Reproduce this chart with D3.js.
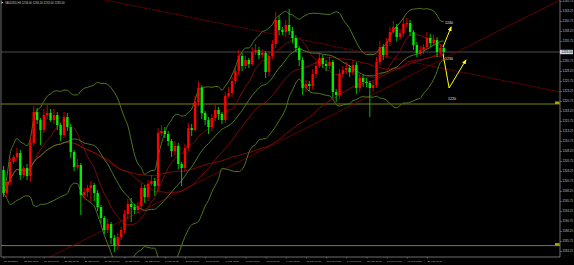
<!DOCTYPE html>
<html>
<head>
<meta charset="utf-8">
<script src="https://cdnjs.cloudflare.com/ajax/libs/d3/7.8.5/d3.min.js"></script>
<style>
  html, body { margin: 0; padding: 0; background: #000; }
  svg { display: block; }
</style>
</head>
<body>
<div id="chart"></div>
<script>
// XAUUSD H4 candles (open = previous close)
const symbol = "XAUUSD,H4";
const firstOpen = 1203.5;
const closes = [
  1197.75, 1200.5, 1205.5, 1206.75, 1207.75, 1202.25, 1204, 1202, 1210.25, 1218,
  1216, 1213.5, 1217.25, 1217.75, 1216, 1217.25, 1214.75, 1212.25, 1216.75, 1214.25,
  1208, 1204.25, 1204.75, 1197.25, 1198, 1199, 1199.75, 1197.75, 1194.25, 1191.5,
  1188.5, 1190, 1186.5, 1184.5, 1186.75, 1188.5, 1192.5, 1195, 1194.25, 1193.5,
  1194.5, 1199, 1196.75, 1200, 1200.75, 1199.5, 1212.75, 1213.25, 1212.5, 1210.75,
  1208.25, 1209.5, 1205, 1204, 1209, 1214, 1213.5, 1220.5, 1224, 1217.75,
  1216, 1214.25, 1216.5, 1218.5, 1217.5, 1216, 1222, 1222.75, 1225.75, 1228.25,
  1232, 1229.5, 1231, 1230, 1233, 1233.5, 1232.25, 1232.75, 1228, 1232,
  1235, 1241, 1238.5, 1238, 1239.75, 1238.25, 1236.5, 1234, 1231, 1224,
  1225, 1224.5, 1227.5, 1229.5, 1231.5, 1230, 1229.5, 1230.5, 1223, 1222.25,
  1227.5, 1228.5, 1229, 1228, 1229.75, 1224, 1226.5, 1225.5, 1225.25, 1224,
  1224.75, 1230.5, 1234.25, 1232.25, 1235.5, 1238, 1239.25, 1236.75, 1237.75, 1240,
  1240.25, 1238, 1234.75, 1232.75, 1233.5, 1234.25, 1236.5, 1235.25, 1236, 1233,
  1234, 1233
];
const upWick = [
  1, 0.75, 1, 0.5, 1.25, 0.75, 0.5, 1, 1.5, 1.5,
  1, 0.5, 1.5, 2, 1, 1.5, 0.75, 0.5, 1.25, 1,
  0.75, 0.5, 1.5, 0.5, 1, 0.75, 1, 0.5, 0.75, 0.5,
  0.5, 1.25, 0.5, 0.75, 1, 0.75, 1, 1.25, 1.5, 0.75,
  1, 1.25, 0.75, 1, 1.5, 0.75, 1.25, 1.5, 1, 0.75,
  0.5, 1.25, 0.75, 0.5, 1, 1.25, 1, 1.5, 1.75, 0.75,
  0.5, 0.75, 1, 1.25, 0.75, 0.5, 1, 1.5, 1, 1.25,
  1.5, 0.75, 1, 0.5, 1.25, 1.5, 0.75, 1, 0.5, 1.25,
  1, 2, 1, 0.75, 1.25, 4, 1, 0.75, 0.5, 0.75,
  1, 0.75, 1.25, 1, 1.5, 0.75, 1, 1.25, 0.5, 0.75,
  1.25, 1, 1.5, 0.75, 1.25, 0.75, 1, 0.75, 1, 0.5,
  1, 1.25, 1.5, 0.75, 1, 1.25, 1.5, 0.75, 1, 1.5,
  1.25, 0.75, 0.5, 0.75, 1, 0.75, 1.5, 1, 1.25, 0.75,
  1, 0.5
];
const downWick = [
  1, 1.25, 0.75, 0.5, 1, 1.25, 0.75, 1, 1.5, 0.75,
  1, 3.75, 0.75, 1, 0.5, 1, 1.25, 1.5, 0.75, 1,
  1.5, 1, 0.75, 5, 1, 1.25, 3.5, 2, 1, 1.25,
  1, 0.75, 1.5, 1.5, 1, 0.75, 1, 1.25, 3.75, 1,
  0.75, 1, 1.5, 1, 0.5, 2.5, 1.5, 0.75, 1, 1.25,
  1.5, 1, 1.25, 4.5, 1, 0.75, 1.5, 0.5, 1, 1.5,
  1.25, 1.75, 1, 0.75, 1.5, 1, 0.75, 0.5, 1, 0.75,
  1, 1.25, 0.75, 1, 0.5, 0.75, 1, 0.75, 1.5, 1,
  0.75, 1, 1.25, 0.75, 1, 1, 1.25, 1, 1.5, 1.75,
  1, 1.25, 0.75, 1, 0.5, 1, 1.25, 0.75, 1.5, 1.75,
  1, 0.75, 1, 1.25, 0.75, 1.5, 1, 1.25, 1, 7.25,
  1, 0.75, 1, 1.25, 0.75, 1, 0.5, 1, 0.75, 1,
  0.75, 1, 1.25, 1, 0.75, 1, 0.5, 1, 0.75, 1.25,
  0.75, 1
];
// one label per trading day (6 H4 bars)
const dayLabels = [
  "20 Jan 2017", "23 Jan 00:00", "24 Jan 00:00", "25 Jan 00:00", "26 Jan 00:00",
  "27 Jan 00:00", "30 Jan 00:00", "31 Jan 00:00", "1 Feb 00:00", "2 Feb 00:00",
  "3 Feb 00:00", "6 Feb 00:00", "7 Feb 00:00", "8 Feb 00:00", "9 Feb 00:00",
  "10 Feb 00:00", "13 Feb 00:00", "14 Feb 00:00", "15 Feb 00:00", "16 Feb 00:00",
  "17 Feb 00:00", "20 Feb 00:00"
];
const priceTicks = [
  1245.75, 1243.25, 1240.75, 1238.25, 1235.75, 1230.75, 1228.25, 1225.75, 1223.25,
  1220.75, 1218.25, 1215.75, 1213.25, 1210.75, 1208.25, 1205.75, 1203.25, 1200.75,
  1198.25, 1195.75, 1193.25, 1190.75, 1188.25, 1185.75, 1183.25
];
const levelLines = [1220, 1184.6];
// trend lines as [bar index, price]
const descTrend = [[30.2, 1246], [165.6, 1223]];
const ascTrend = [[10.9, 1180.5], [165.6, 1246]];
// hand-drawn forecast
const arrowUp = [[130.8, 1234.25], [133.2, 1239.25]];
const arrowZig = [[130.8, 1232.5], [132.6, 1224], [137.6, 1231]];
const targetText = ["1240", "1230", "1220"];
const targetBar = [131.4, 131.4, 132.3];
const targetPrice = [1239.9, 1231.1, 1221.1];
const maPeriods = [10, 30, 60];

const width = 574, height = 265;
const plot = { left: 1, right: 560, top: 0, bottom: 257 };
const font = "'Liberation Sans', Arial, sans-serif";

const candles = closes.map((c, i) => {
  const o = i ? closes[i - 1] : firstOpen;
  return { i, o, c, h: Math.max(o, c) + upWick[i], l: Math.min(o, c) - downWick[i] };
});

const x = d3.scaleLinear().domain([-0.75, 165.6]).range([plot.left, plot.right]);
const y = d3.scaleLinear().domain([1246, 1181.75]).range([plot.top, plot.bottom]);

const svg = d3.select("#chart").append("svg")
  .attr("width", width).attr("height", height)
  .style("background", "#000");

svg.append("defs").append("clipPath").attr("id", "clip")
  .append("rect")
  .attr("x", plot.left).attr("y", plot.top)
  .attr("width", plot.right - plot.left).attr("height", plot.bottom - plot.top);

const defs = svg.select("defs");
defs.append("marker")
  .attr("id", "head")
  .attr("markerUnits", "userSpaceOnUse")
  .attr("viewBox", "0 0 10 10")
  .attr("refX", 8).attr("refY", 5)
  .attr("markerWidth", 5).attr("markerHeight", 5)
  .attr("orient", "auto")
  .append("path").attr("d", "M0,1 L10,5 L0,9 Z").attr("fill", "#ffff00");

const g = svg.append("g").attr("clip-path", "url(#clip)");

// indicators
function sma(period) {
  return closes.map((_, i) => {
    const w = closes.slice(Math.max(0, i - period + 1), i + 1);
    return d3.mean(w);
  });
}
const mid = sma(20);
const dev = closes.map((_, i) => {
  const w = closes.slice(Math.max(0, i - 19), i + 1);
  const m = d3.mean(w);
  return Math.sqrt(d3.mean(w, v => (v - m) * (v - m)));
});
const upper = mid.map((m, i) => m + 2 * dev[i]);
const lower = mid.map((m, i) => m - 2 * dev[i]);

const line = d3.line().x((d, i) => x(i)).y(d => y(d)).curve(d3.curveMonotoneX);
const segLine = d3.line().x(d => x(d[0])).y(d => y(d[1]));

// horizontal levels
levelLines.forEach(p => {
  g.append("line")
    .attr("x1", plot.left).attr("x2", plot.right)
    .attr("y1", y(p)).attr("y2", y(p))
    .attr("stroke", "#808000").attr("stroke-width", 1);
});

// current price line
const last = candles[candles.length - 1];
g.append("line")
  .attr("x1", plot.left).attr("x2", plot.right)
  .attr("y1", y(last.c)).attr("y2", y(last.c))
  .attr("stroke", "#4a4a55").attr("stroke-width", 1.2);

// trend lines
g.append("path").attr("d", segLine(descTrend))
  .attr("fill", "none").attr("stroke", "#8b0000")
  .attr("stroke-width", 0.9).attr("stroke-dasharray", "2,1");
g.append("path").attr("d", segLine(ascTrend))
  .attr("fill", "none").attr("stroke", "#7a0000").attr("stroke-width", 0.8);

// moving averages
maPeriods.forEach(p => {
  g.append("path").attr("d", line(sma(p)))
    .attr("fill", "none").attr("stroke", "#8b0a0a").attr("stroke-width", 0.9);
});

// bollinger bands
[upper, mid, lower].forEach(band => {
  g.append("path").attr("d", line(band))
    .attr("fill", "none").attr("stroke", "#4e7a1e").attr("stroke-width", 1);
});

// candles
const up = "#ff0000", down = "#00ee00";
g.selectAll(".wick").data(candles).enter().append("line")
  .attr("class", "wick")
  .attr("x1", d => x(d.i)).attr("x2", d => x(d.i))
  .attr("y1", d => y(d.h)).attr("y2", d => y(d.l))
  .attr("stroke", d => d.c >= d.o ? up : down).attr("stroke-width", 0.8);
g.selectAll(".body").data(candles).enter().append("rect")
  .attr("class", "body")
  .attr("x", d => x(d.i) - 1.2).attr("width", 2.4)
  .attr("y", d => y(Math.max(d.o, d.c)))
  .attr("height", d => Math.max(0.8, Math.abs(y(d.o) - y(d.c))))
  .attr("fill", d => d.c >= d.o ? up : down);

// forecast arrows
g.append("path").attr("d", segLine(arrowUp))
  .attr("fill", "none").attr("stroke", "#ffff00").attr("stroke-width", 1)
  .attr("marker-end", "url(#head)");
g.append("path").attr("d", segLine(arrowZig))
  .attr("fill", "none").attr("stroke", "#ffff00").attr("stroke-width", 1)
  .attr("marker-end", "url(#head)");
targetText.forEach((t, k) => {
  g.append("text")
    .attr("x", x(targetBar[k])).attr("y", y(targetPrice[k]))
    .attr("fill", "#e8e8e8").attr("font-family", font).attr("font-size", 3.6)
    .text(t);
});

// level tags at right edge
levelLines.forEach(p => {
  svg.append("rect")
    .attr("x", plot.right - 5).attr("y", y(p) - 2.5)
    .attr("width", 4.5).attr("height", 2.5)
    .attr("fill", "#a8a800");
});

// frame
svg.append("line").attr("x1", plot.left).attr("x2", plot.left)
  .attr("y1", plot.top).attr("y2", plot.bottom).attr("stroke", "#888").attr("stroke-width", 0.8);
svg.append("line").attr("x1", plot.right).attr("x2", plot.right)
  .attr("y1", plot.top).attr("y2", plot.bottom).attr("stroke", "#888").attr("stroke-width", 0.8);
svg.append("line").attr("x1", plot.left).attr("x2", plot.right)
  .attr("y1", plot.bottom).attr("y2", plot.bottom).attr("stroke", "#888").attr("stroke-width", 0.8);

// price axis
const yAxis = svg.append("g").attr("transform", `translate(${plot.right},0)`)
  .call(d3.axisRight(y).tickValues(priceTicks).tickSize(2).tickFormat(d3.format(".2f")));
yAxis.select(".domain").remove();
yAxis.selectAll("line").attr("stroke", "#888").attr("stroke-width", 0.6);
yAxis.selectAll("text")
  .attr("x", 2.5).attr("fill", "#c0c0c0")
  .attr("font-family", font).attr("font-size", 3);

// current price box
svg.append("rect")
  .attr("x", plot.right).attr("y", y(last.c) - 2.2)
  .attr("width", 13).attr("height", 4.4).attr("fill", "#d4d4d4");
svg.append("text")
  .attr("x", plot.right + 1.5).attr("y", y(last.c) + 1.1)
  .attr("fill", "#000").attr("font-family", font).attr("font-size", 3)
  .text(last.c.toFixed(2));

// time axis
const xAxis = svg.append("g").attr("transform", `translate(0,${plot.bottom})`)
  .call(d3.axisBottom(x).tickValues(dayLabels.map((_, k) => k * 6)).tickSize(1.5)
    .tickFormat((d, k) => dayLabels[k]));
xAxis.select(".domain").remove();
xAxis.selectAll("line").attr("stroke", "#888").attr("stroke-width", 0.6);
xAxis.selectAll("text")
  .attr("y", 3).attr("text-anchor", "start").attr("dy", "0.71em")
  .attr("fill", "#c0c0c0").attr("font-family", font).attr("font-size", 2.5);

// title
svg.append("path").attr("d", "M1.5,1.5 L3.5,2.6 L1.5,3.7 Z").attr("fill", "#ddd");
svg.append("text")
  .attr("x", 5).attr("y", 3.8)
  .attr("fill", "#c8c8c8").attr("font-family", font).attr("font-size", 2.8)
  .text(`${symbol}  ${[last.o, last.h, last.l, last.c].map(v => v.toFixed(2)).join(" ")}`);
</script>
</body>
</html>
